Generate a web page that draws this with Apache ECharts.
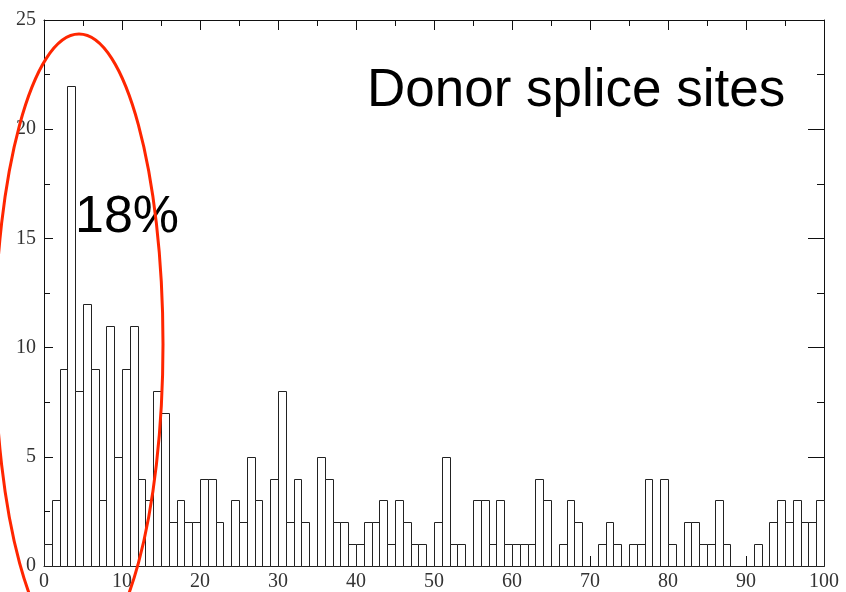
<!DOCTYPE html>
<html>
<head>
<meta charset="utf-8">
<script src="https://cdn.jsdelivr.net/npm/echarts@6/dist/echarts.min.js"></script>
<style>html,body{margin:0;padding:0;background:#fff}#c{width:846px;height:592px}</style>
</head>
<body>
<div id="c"></div>
<script>
// Histogram counts for bins [i, i+1), i = 0..99
var counts = [
  1, 3, 9, 22, 8, 12, 9, 3, 11, 5,
  9, 11, 4, 3, 8, 7, 2, 3, 2, 2,
  4, 4, 2, 0, 3, 2, 5, 3, 0, 4,
  8, 2, 4, 2, 0, 5, 4, 2, 2, 1,
  1, 2, 2, 3, 1, 3, 2, 1, 1, 0,
  2, 5, 1, 1, 0, 3, 3, 1, 3, 1,
  1, 1, 1, 4, 3, 0, 1, 3, 2, 0,
  0, 1, 2, 1, 0, 1, 1, 4, 0, 4,
  1, 0, 2, 2, 1, 1, 3, 1, 0, 0,
  0, 1, 0, 2, 3, 2, 3, 2, 2, 3
];
var xTicks = [0, 10, 20, 30, 40, 50, 60, 70, 80, 90, 100];
var yTicks = [0, 5, 10, 15, 20, 25];
var titleText = 'Donor splice sites';
var noteText = '18%';

var chart = echarts.init(document.getElementById('c'));
var data = counts.map(function (v, i) { return [i, v]; });

function axisCommon(pos, showLabel, tickLen, minorLen) {
  return {
    position: pos,
    axisLine: { show: true, onZero: false, lineStyle: { color: '#111', width: 1 } },
    axisTick: { show: true, inside: true, length: tickLen, lineStyle: { color: '#111', width: 1 } },
    minorTick: { show: true, splitNumber: 2, length: minorLen, lineStyle: { color: '#111', width: 1 } },
    splitLine: { show: false },
    axisLabel: {
      show: showLabel,
      color: '#333',
      fontFamily: 'Liberation Serif',
      fontSize: 20
    }
  };
}

var xb = Object.assign({ type: 'value', min: 0, max: 100, interval: 10 }, axisCommon('bottom', true, 10, 6));
xb.axisLabel.margin = 6;
var xt = Object.assign({ type: 'value', min: 0, max: 100, interval: 10 }, axisCommon('top', false, 10, 6));
var yl = Object.assign({ type: 'value', min: 0, max: 25, interval: 5 }, axisCommon('left', true, 9, 6));
yl.axisLabel.margin = 8;
var yr = Object.assign({ type: 'value', min: 0, max: 25, interval: 5 }, axisCommon('right', false, 16, 7));

chart.setOption({
  backgroundColor: '#fff',
  animation: false,
  grid: { left: 44, right: 22, top: 20, bottom: 25, containLabel: false },
  xAxis: [xb, xt],
  yAxis: [yl, yr],
  series: [{
    type: 'custom',
    xAxisIndex: 0,
    yAxisIndex: 0,
    encode: { x: 0, y: 1 },
    data: data,
    renderItem: function (params, api) {
      var i = api.value(0), v = api.value(1);
      var p0 = api.coord([i, 0]);
      var p1 = api.coord([i + 1, v]);
      var x0 = Math.round(p0[0]) + 0.5, x1 = Math.round(p1[0]) + 0.5;
      var yb = Math.round(p0[1]) + 0.5, yt = Math.round(p1[1]) + 0.5;
      return {
        type: 'rect',
        shape: { x: x0, y: yt, width: x1 - x0, height: yb - yt },
        style: { fill: '#fff', stroke: '#222', lineWidth: 1 }
      };
    }
  }],
  graphic: [
    {
      type: 'text', left: 367, top: 65, z: 10,
      style: { text: titleText, fill: '#000', font: '53px "Liberation Sans", Arial, sans-serif' }
    },
    {
      type: 'text', left: 75, top: 192, z: 10,
      style: { text: noteText, fill: '#000', font: '52px "Liberation Sans", Arial, sans-serif' }
    },
    {
      type: 'ellipse', z: 20, silent: true,
      shape: { cx: 79, cy: 344, rx: 84, ry: 310 },
      style: { fill: 'none', stroke: '#ff2600', lineWidth: 3 }
    }
  ]
});
</script>
</body>
</html>
